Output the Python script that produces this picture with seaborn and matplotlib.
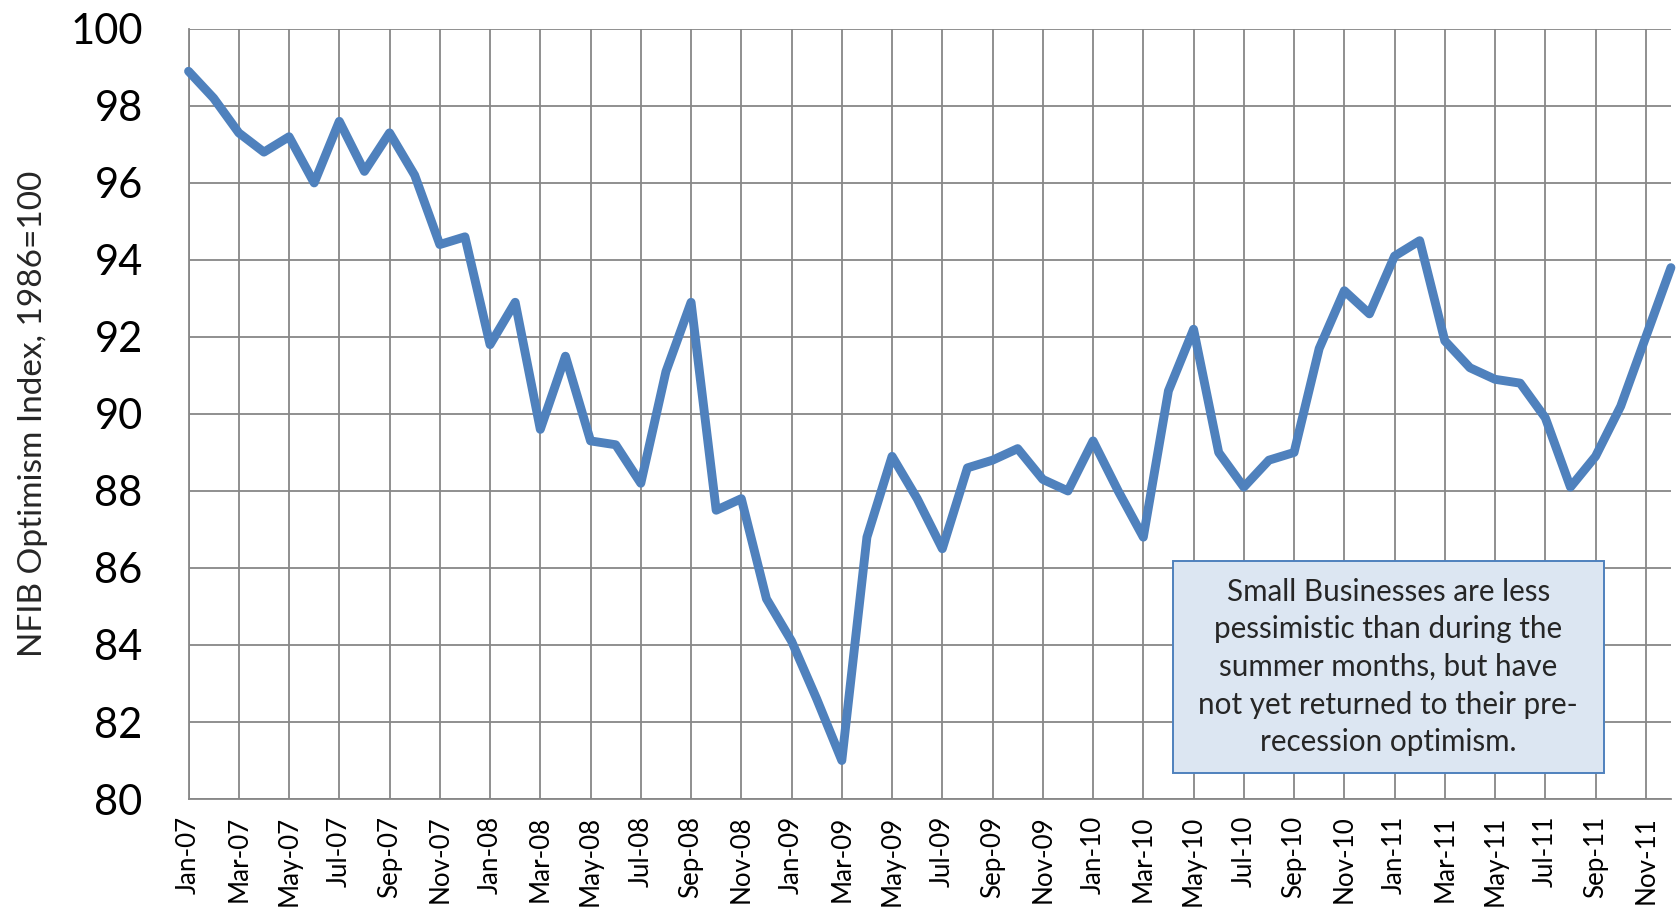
import matplotlib
matplotlib.use("Agg")
import matplotlib.pyplot as plt
import seaborn as sns
import pandas as pd
from matplotlib.patches import Rectangle

# NFIB Small Business Optimism Index (1986=100), monthly Jan 2007 - Dec 2011
idx_2007 = [98.9, 98.2, 97.3, 96.8, 97.2, 96.0, 97.6, 96.3, 97.3, 96.2, 94.4, 94.6]
idx_2008 = [91.8, 92.9, 89.6, 91.5, 89.3, 89.2, 88.2, 91.1, 92.9, 87.5, 87.8, 85.2]
idx_2009 = [84.1, 82.6, 81.0, 86.8, 88.9, 87.8, 86.5, 88.6, 88.8, 89.1, 88.3, 88.0]
idx_2010 = [89.3, 88.0, 86.8, 90.6, 92.2, 89.0, 88.1, 88.8, 89.0, 91.7, 93.2, 92.6]
idx_2011 = [94.1, 94.5, 91.9, 91.2, 90.9, 90.8, 89.9, 88.1, 88.9, 90.2, 92.0, 93.8]

months = pd.date_range("2007-01-01", "2011-12-01", freq="MS")
month_labels = [d.strftime("%b-%y") for d in months]
y_ticks = list(range(80, 101, 2))

note = ("Small Businesses are less\npessimistic than during the\n"
        "summer months, but have\nnot yet returned to their pre-\n"
        "recession optimism.")
y_label = "NFIB Optimism Index, 1986=100"

values = idx_2007 + idx_2008 + idx_2009 + idx_2010 + idx_2011
df = pd.DataFrame({"pos": range(len(values)), "index": values,
                   "month": month_labels})

sns.set_style("white")
plt.rcParams["font.family"] = ["Lato", "DejaVu Sans"]

grid_c = "#878787"
line_c = "#4F81BD"

fig = plt.figure(figsize=(16.79, 9.09), dpi=100)
ax = fig.add_axes([0.1123, 0.121, 0.9952 - 0.1123, 0.9682 - 0.121])

sns.lineplot(data=df, x="pos", y="index", ax=ax, color=line_c,
             linewidth=6.4, solid_joinstyle="round", solid_capstyle="round",
             clip_on=False, zorder=3)

ax.set_xlim(0, len(values) - 1)
ax.set_ylim(80, 100)
ax.set_yticks(y_ticks)
ax.set_yticklabels([str(v) for v in y_ticks], fontsize=30)
tick_pos = list(range(0, len(values), 2))
ax.set_xticks(tick_pos)
ax.set_xticklabels([month_labels[i] for i in tick_pos], rotation=90,
                   fontsize=18.7)

ax.grid(True, color=grid_c, linewidth=1.3, zorder=0)
ax.set_axisbelow(True)
for s in ["top", "right"]:
    ax.spines[s].set_visible(False)
for s in ["left", "bottom"]:
    ax.spines[s].set_color(grid_c)
    ax.spines[s].set_linewidth(1.3)

ax.tick_params(axis="y", direction="out", length=11, width=1.1,
               color=grid_c, pad=22, labelcolor="black")
ax.tick_params(axis="x", direction="out", length=6, width=1.1,
               color=grid_c, pad=6, labelcolor="black")

ax.set_xlabel("")
ax.set_ylabel(y_label, fontsize=24)
ax.yaxis.set_label_coords(-0.0945, 0.5)

# annotation box
bx0, by0 = 1172.5 / 1679, 1 - 773 / 909
bx1, by1 = 1604 / 1679, 1 - 561 / 909
fig.patches.append(Rectangle((bx0, by0), bx1 - bx0, by1 - by0,
                             transform=fig.transFigure, facecolor="#DCE6F2",
                             edgecolor=line_c, linewidth=1.4, zorder=5))
fig.text((bx0 + bx1) / 2, (by0 + by1) / 2, note, ha="center", va="center",
         fontsize=21.3, linespacing=1.42, zorder=6)

fig.savefig("out.png", dpi=100)
